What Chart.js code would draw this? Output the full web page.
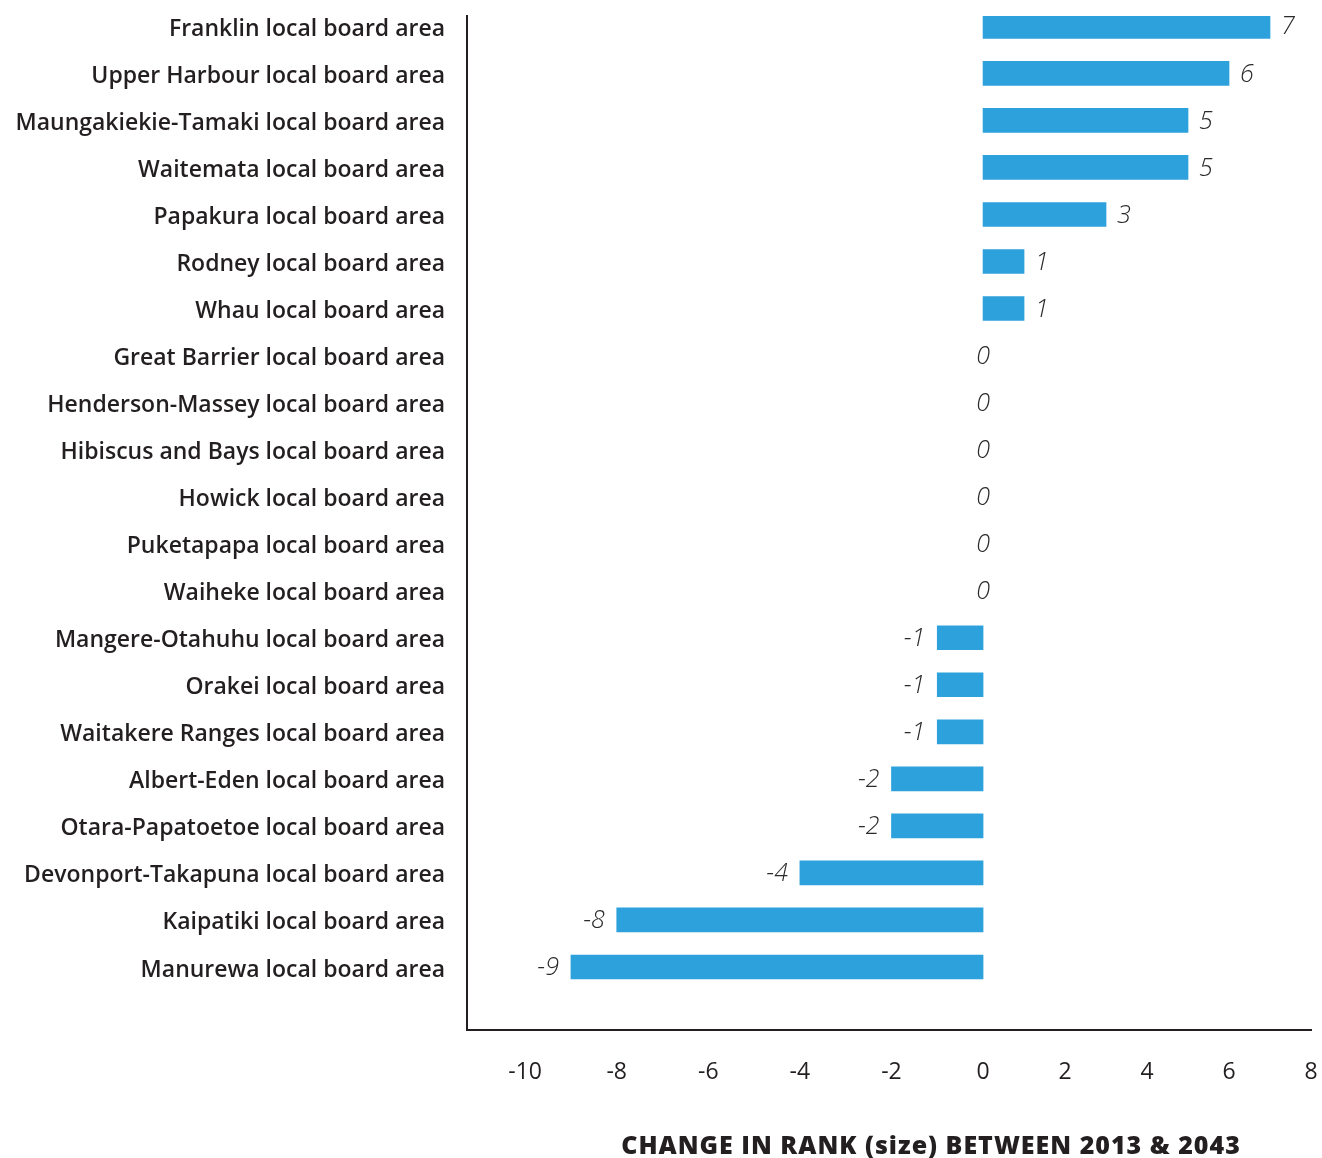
<!DOCTYPE html>
<html>
<head>
<meta charset="utf-8">
<script src="https://cdn.jsdelivr.net/npm/chart.js@4"></script>
<style>
  html, body { margin: 0; padding: 0; background: #fff; }
  #wrap { width: 1322px; height: 1158px; position: relative; }
</style>
</head>
<body>
<div id="wrap"><canvas id="rankChart"></canvas></div>
<script>
const categories = [
  'Franklin local board area',
  'Upper Harbour local board area',
  'Maungakiekie-Tamaki local board area',
  'Waitemata local board area',
  'Papakura local board area',
  'Rodney local board area',
  'Whau local board area',
  'Great Barrier local board area',
  'Henderson-Massey local board area',
  'Hibiscus and Bays local board area',
  'Howick local board area',
  'Puketapapa local board area',
  'Waiheke local board area',
  'Mangere-Otahuhu local board area',
  'Orakei local board area',
  'Waitakere Ranges local board area',
  'Albert-Eden local board area',
  'Otara-Papatoetoe local board area',
  'Devonport-Takapuna local board area',
  'Kaipatiki local board area',
  'Manurewa local board area'
];
const rankChange = [7, 6, 5, 5, 3, 1, 1, 0, 0, 0, 0, 0, 0, -1, -1, -1, -2, -2, -4, -8, -9];
const xTicks = [-10, -8, -6, -4, -2, 0, 2, 4, 6, 8];
const axisTitle = 'CHANGE IN RANK (size) BETWEEN 2013 & 2043';

const barColor = '#2ca1dc';
const inkColor = '#231f20';
const fontFamily = '"Open Sans", sans-serif';

// linear scale whose negative side is stretched a little wider than the positive side
class SplitScale extends Chart.LinearScale {
  static id = 'split';
  _unit() {
    const r = this.options.negStretch || 1;
    return this.width / (-this.min * r + this.max);
  }
  getPixelForValue(value) {
    const r = this.options.negStretch || 1;
    const u = this._unit();
    const zero = this.left - this.min * r * u;
    return value < 0 ? zero + value * r * u : zero + value * u;
  }
  getValueForPixel(pixel) {
    const r = this.options.negStretch || 1;
    const u = this._unit();
    const zero = this.left - this.min * r * u;
    const d = pixel - zero;
    return d < 0 ? d / (r * u) : d / u;
  }
}
Chart.register(SplitScale);

const valueLabels = {
  id: 'valueLabels',
  afterDatasetsDraw(chart) {
    const ctx = chart.ctx;
    const meta = chart.getDatasetMeta(0);
    ctx.save();
    ctx.font = 'italic 300 25px ' + fontFamily;
    ctx.fillStyle = '#2a2a2a';
    ctx.textBaseline = 'middle';
    meta.data.forEach((bar, i) => {
      const v = rankChange[i];
      let x = bar.x;
      if (v > 0) { ctx.textAlign = 'left'; x += 11; }
      else if (v < 0) { ctx.textAlign = 'right'; x -= 12; }
      else { ctx.textAlign = 'center'; }
      ctx.fillText(String(v), x, bar.y + 1);
    });
    ctx.restore();
  }
};

const bottomTitle = {
  id: 'bottomTitle',
  afterDraw(chart) {
    const ctx = chart.ctx;
    ctx.save();
    ctx.font = '800 25px ' + fontFamily;
    ctx.letterSpacing = '1px';
    ctx.fillStyle = inkColor;
    ctx.textAlign = 'center';
    ctx.textBaseline = 'middle';
    ctx.fillText(axisTitle, 931, 1147);
    ctx.restore();
  }
};

const ctx = document.getElementById('rankChart').getContext('2d');
const rankChart = new Chart(ctx, {
  type: 'bar',
  data: {
    datasets: [{
      data: rankChange.map((v, i) => ({ x: v, y: i })),
      backgroundColor: rankChange.map(v => v === 0 ? 'rgba(0,0,0,0)' : barColor),
      borderWidth: 0,
      barThickness: 24
    }]
  },
  options: {
    indexAxis: 'y',
    responsive: true,
    maintainAspectRatio: false,
    animation: false,
    layout: { autoPadding: false, padding: { left: 0, right: 11, top: 16, bottom: 0 } },
    plugins: {
      legend: { display: false },
      tooltip: { enabled: false }
    },
    scales: {
      x: {
        type: 'split',
        negStretch: 1.117,
        min: -11.27,
        max: 8,
        grid: { display: false, drawTicks: false },
        border: { display: true, color: inkColor, width: 2 },
        afterBuildTicks: axis => { axis.ticks = xTicks.map(v => ({ value: v })); },
        afterFit: axis => {
          axis.height = 128;
          axis.paddingLeft = 0;
          axis.paddingRight = 0;
        },
        ticks: {
          padding: 29,
          color: inkColor,
          font: { family: fontFamily, size: 23 },
          maxRotation: 0,
          callback: v => String(v)
        }
      },
      y: {
        type: 'linear',
        offset: false,
        reverse: true,
        min: -0.22,
        max: 21.34,
        grid: { display: false, drawTicks: false },
        border: { display: true, color: inkColor, width: 2 },
        afterBuildTicks: axis => { axis.ticks = categories.map((c, i) => ({ value: i })); },
        afterFit: axis => {
          axis.width = 467;
          axis.paddingTop = 0;
          axis.paddingBottom = 0;
        },
        ticks: {
          padding: 22,
          labelOffset: 3,
          color: inkColor,
          font: { family: fontFamily, size: 23, weight: 600 },
          callback: v => categories[v]
        }
      }
    }
  },
  plugins: [valueLabels, bottomTitle]
});
</script>
</body>
</html>
